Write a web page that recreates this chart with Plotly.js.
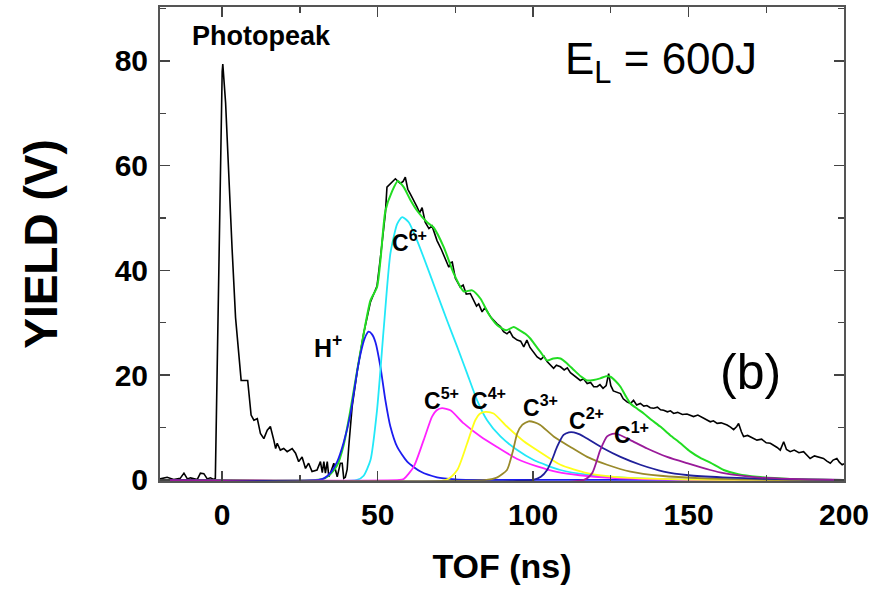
<!DOCTYPE html>
<html>
<head>
<meta charset="utf-8">
<script src="https://cdn.plot.ly/plotly-3.0.1.min.js"></script>
<style>html,body{margin:0;padding:0;background:#fff;}#chart{width:880px;height:599px;}</style>
</head>
<body>
<div id="chart"></div>
<script>
// ---- measured signal (black) ----
const tofData = [-20,-17.7,-15.6,-13.5,-12.3,-11.2,-10.2,-8,-7,-5.9,-4.8,-3.8,-2.7,-2.2,0,0.2,1.1,2.2,3.2,4.3,5.4,6.1,8.2,9.3,10.2,11.3,12.3,13.4,14.5,15.5,16.6,17.2,17.7,18.7,19.8,20.9,22.5,23.6,24.6,25.7,26.8,27.8,28.9,30.5,31.6,32.2,32.7,33.2,33.8,34.3,34.8,35.9,37,38,38.6,39.1,39.6,40.2,40.7,41.8,43.5,45.5,47.7,49.8,51,52.5,53,54,55.7,57.3,58.2,58.9,59.7,60.5,61.5,62.7,63.5,64.3,65.3,66.5,67.5,69.1,70.5,71.5,72.9,73.5,74,75,76.6,77.5,78.5,79.8,80.8,81.8,82.5,83.6,84.5,85.5,86.5,88.4,89.5,90.5,91.6,92.5,93.5,94.9,96,97,98,99,100.4,101.3,102.5,103.5,104.5,105.5,106.6,107.5,108.8,110,111,112,113.1,114,115.2,116.2,117.4,118.5,119.5,120.6,121.5,122.5,123.5,124.3,125,125.8,127,128.1,129,130.2,131.3,132.3,133.3,134.5,135.6,136.6,137.7,138.8,140,141,142,143.2,144.2,145.2,146.5,148,149.5,150.6,151.6,153,154.5,156,157,158,159.2,160.5,162.4,163.5,164.5,165.5,166.1,167,167.7,169,170.5,172,173.5,175,176.3,177.5,178.5,179.5,180.6,181.5,182.7,184,185.5,187,188,189.1,190.5,192,193.4,194.5,195.6,196.5,197.7,198.5,199.4,200];
const yieldData = [0.2,0.5,0.1,0.3,1.3,0.2,0.4,0.1,1.3,1.2,0.2,0.4,0.1,0.3,78,79.4,72,56,44,31,23,19,19,12.4,11.4,11.7,8.9,7.9,9.5,10.2,7.6,6,7,5.7,6,5.4,6,5.1,3.5,4.4,2.2,3.2,1.6,1.9,3.5,1.4,3.5,1.3,3.5,0.6,1.3,3.2,0.6,3.2,3.2,0.3,0.5,2,6.3,14,21,28,34,37,43,51,55.9,56.5,57.5,56.6,57,57.8,55.5,54.6,53.5,52.1,51,52,49.2,48,48.5,45.7,44,42.5,40.6,41.5,41.6,38.5,36.8,37.2,35.5,35.6,34.5,33.2,33.6,32.1,32.9,31.8,31,29.8,29.3,28.3,27.9,28.4,27.3,26.7,26.5,25.4,26.7,25.3,24.1,23.5,23,23.6,22.6,22,21.3,21.9,21.6,21,21.4,20.5,20,19.6,19,19.3,18.4,18.6,17.8,17.8,18.2,17.5,18,20.3,18,17,16.8,16.5,15.5,14.9,14.6,15.2,14.3,14.6,14.1,14.2,13.8,13.7,13.9,13.4,13.3,13,13.2,12.7,12.9,12.5,12.6,12.3,12.1,12.4,11.9,11.5,11.1,11.3,10.8,10.9,10.5,10.1,9.6,10.2,10.8,9.2,8.3,8.5,8,7.6,7.8,7.1,7,6.6,6.2,5.7,7.3,5.8,5.4,5.7,5.2,5.4,4.8,4.1,4.6,4.3,4.1,3.6,3.2,3.8,4.1,3.4,2.9,3.1];

// ---- total fit (green) ----
const tofFit = [-20,30,33,35,37,39,41,43,45.5,47.7,49.8,50.9,52.5,54.7,56.5,58.4,60.5,62.7,65.9,68,71.3,74.5,77.7,80.4,83.1,85.7,88.4,91.3,93.8,95.6,97.5,99.1,101,102.3,104.5,106.5,108.8,111,113.1,115.3,117.4,119.5,121.6,123.5,124.9,126.5,128.1,129.7,131.3,133.5,135.6,138,140.9,144,147.4,150.6,153.8,157,161.3,166,172,182.7,200];
const yieldFit = [0,0,0.3,1.2,2.8,6.5,12.5,19.5,27.9,34.3,36.8,41.9,51.4,55.2,57.1,55.9,53.5,51.4,49.2,48.2,44.4,39.4,36,36.2,34.6,31.7,29.6,28.6,29.2,28.6,27.9,27,25.5,24.5,22.8,23.2,23.2,22.2,21,19.8,19,19.1,19.4,19.8,19.7,18.9,17.8,16.1,14.6,13.6,12.7,11.5,10.2,8.6,7,5.4,4.2,3.3,1.9,1.1,0.6,0.2,0];

// ---- fitted ion components ----
const tofH1 = [-20,31,33,35,37,39,41.3,42.3,43.5,44.5,45.8,47.1,48.2,49.3,50.9,52.5,54.1,56.3,59.5,63.8,69.1,75,80,200];
const yieldH1 = [0,0,0.4,1.5,3.5,7,12.7,16.5,21,24.1,27,28.3,27.8,26.3,21.6,15.2,10.2,6.3,3.5,1.6,0.5,0.1,0,0];
const tofC6 = [-20,43.4,45.5,47.7,49.8,52,54.1,56.3,57.9,60,62.7,66,69.1,72.3,75.6,78.8,82,85.2,89.5,94.9,100.2,108.8,117.4,128,140,155,200];
const yieldC6 = [0,0,0.8,3.8,13.3,29.2,43.2,48.9,50.2,49.2,45.7,40.6,35.6,30.5,25.4,20.3,15.2,11.4,8.3,5.7,3.8,1.9,1,0.5,0.2,0,0];
const tofC5 = [-20,57,58.4,61.6,64.8,67.5,69,70.7,73.4,77.7,83.1,88.4,94.9,101.3,108,115,125,140,160,200];
const yieldC5 = [0,0,0.2,2.5,7.6,12.1,13.3,13.7,13.3,10.8,8.3,6.3,4,2.6,1.5,0.9,0.4,0.1,0,0];
const tofC4 = [-20,72,75.6,78.8,81.4,83,84.7,87.3,91.6,97,102.3,108.8,117.4,126,140,160,200];
const yieldC4 = [0,0,1.9,7,11.4,12.7,13,12.7,10.2,7.4,5.3,2.9,1.3,0.6,0.2,0,0];
const tofC3 = [-20,85,88.5,91.6,93.5,94.9,96.5,98.6,100.5,102.3,106.6,112,117.4,123.8,131.3,141,155,170,185,200];
const yieldC3 = [0,0,0.5,1.9,5.5,8.9,10.5,11.2,11,10.5,8.3,6.3,4.4,2.9,1.6,0.8,0.3,0.1,0,0];
const tofC2 = [-20,100,102.5,104.5,106.2,107.7,109.8,111.5,113.1,115,117.4,122.7,128.1,134.5,142,150,161,175,190,200];
const yieldC2 = [0,0,0.6,1.9,4,6.3,8.6,9.1,9.1,8.7,7.9,6,4.4,2.9,1.6,0.9,0.5,0.2,0.05,0];
const tofC1 = [-20,116.3,119,121.6,123.8,125.5,127,131.3,136.7,143.1,149.5,157,161.3,172,182.7,195,200];
const yieldC1 = [0,0,1.3,5.7,8.3,8.8,8.8,7.6,6,4.4,3.2,1.9,1.3,0.5,0.2,0.05,0];

const xTicks = [0,50,100,150,200];
const yTicks = [0,20,40,60,80];

const FONT = 'Liberation Sans, Arial, Helvetica, sans-serif';

function comp(x, y, color) {
  return {x: x, y: y, type: 'scatter', mode: 'lines',
          line: {color: color, width: 1.8, shape: 'spline', smoothing: 0.6},
          hoverinfo: 'skip', showlegend: false};
}

const traces = [
  {x: tofData, y: yieldData, type: 'scatter', mode: 'lines',
   line: {color: '#000000', width: 1.6}, showlegend: false},
  {x: tofFit, y: yieldFit, type: 'scatter', mode: 'lines',
   line: {color: '#22dd22', width: 2, shape: 'spline', smoothing: 0.6}, showlegend: false},
  comp(tofH1, yieldH1, '#1c1cf0'),
  comp(tofC6, yieldC6, '#22e8f8'),
  comp(tofC5, yieldC5, '#ff22ff'),
  comp(tofC4, yieldC4, '#ffff1a'),
  comp(tofC3, yieldC3, '#998a2a'),
  comp(tofC2, yieldC2, '#20209a'),
  comp(tofC1, yieldC1, '#991a99')
];

function lbl(x, y, text, size, bold) {
  return {x: x, y: y, xref: 'x', yref: 'y', text: text, showarrow: false,
          font: {family: FONT, size: size, color: '#000', weight: bold ? 'bold' : 'normal'}};
}

const layout = {
  width: 880, height: 599,
  margin: {l: 160, r: 36, t: 7, b: 118, pad: 0},
  paper_bgcolor: '#fff', plot_bgcolor: '#fff',
  font: {family: FONT, color: '#000'},
  xaxis: {
    range: [-20, 200], tickvals: xTicks, ticktext: xTicks.map(String),
    ticks: 'inside', ticklen: 10, tickwidth: 1.5, tickcolor: '#444',
    minor: {dtick: 25, tick0: 0, ticks: 'inside', ticklen: 6, tickwidth: 1.2, tickcolor: '#444'},
    showline: true, linecolor: '#555', linewidth: 2, mirror: 'allticks',
    showgrid: false, zeroline: false,
    tickfont: {family: FONT, size: 30, weight: 'bold', color: '#000'},
    ticklabelstandoff: 6,
    title: {text: 'TOF (ns)', font: {family: FONT, size: 34, weight: 'bold', color: '#000'}, standoff: 24}
  },
  yaxis: {
    range: [-0.2, 90.3], tickvals: yTicks, ticktext: yTicks.map(String),
    ticks: 'inside', ticklen: 10, tickwidth: 1.5, tickcolor: '#444',
    minor: {dtick: 10, tick0: 0, ticks: 'inside', ticklen: 6, tickwidth: 1.2, tickcolor: '#444'},
    showline: true, linecolor: '#555', linewidth: 2, mirror: 'allticks',
    showgrid: false, zeroline: false,
    tickfont: {family: FONT, size: 30, weight: 'bold', color: '#000'},
    ticklabelstandoff: 4,
    title: {text: 'YIELD (V)', font: {family: FONT, size: 46, weight: 'bold', color: '#000'}, standoff: 43}
  },
  annotations: [
    lbl(12.6, 84.8, 'Photopeak', 27, true),
    {x: 109.5, y: 79.8, xref: 'x', yref: 'y', xanchor: 'left', text: 'E<sub>L</sub> = 600J', showarrow: false,
     font: {family: FONT, size: 44, color: '#000'}},
    lbl(169.9, 20.6, '(b)', 50, false),
    lbl(33.9, 25.5, 'H<sup>+</sup>', 25, true),
    lbl(60.2, 45.7, 'C<sup>6+</sup>', 23, true),
    lbl(70.7, 15.4, 'C<sup>5+</sup>', 23, true),
    lbl(85.5, 15.4, 'C<sup>4+</sup>', 23, true),
    lbl(102.3, 14.1, 'C<sup>3+</sup>', 23, true),
    lbl(117.3, 11.6, 'C<sup>2+</sup>', 23, true),
    lbl(131.8, 9.0, 'C<sup>1+</sup>', 23, true)
  ]
};

Plotly.newPlot('chart', traces, layout, {displayModeBar: false, staticPlot: true});
</script>
</body>
</html>
